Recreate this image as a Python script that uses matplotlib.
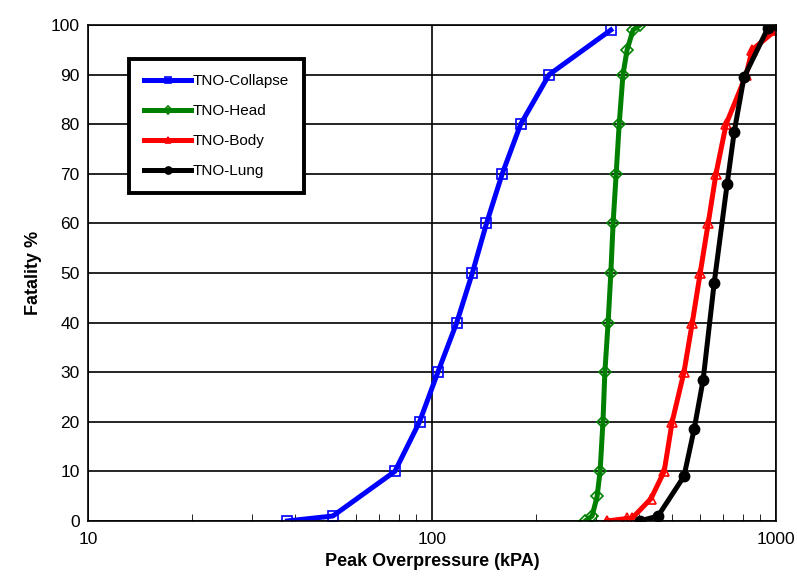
import matplotlib
matplotlib.use('Agg')
from matplotlib import pyplot as plt
from matplotlib.ticker import FixedLocator, NullFormatter

plt.rcParams['font.family'] = ['Liberation Sans', 'DejaVu Sans']

# Peak overpressure (kPa) and fatality (%)
collapse_kpa = [38, 51.5, 78, 92, 104, 118, 131, 144, 160, 181, 219, 331]
collapse_pct = [0, 1, 10, 20, 30, 40, 50, 60, 70, 80, 90, 99]

head_kpa = [279, 292, 302, 308, 314, 318, 325, 331, 336, 343, 350, 359, 369, 384, 402]
head_pct = [0, 1, 5, 10, 20, 30, 40, 50, 60, 70, 80, 90, 95, 99, 100]

body_kpa = [323, 369, 381, 433, 473, 499, 540, 571, 602, 635, 669, 716, 819, 852, 1000]
body_pct = [0, 0.5, 0.5, 4.5, 10, 20, 30, 40, 50, 60, 70, 80, 90, 95, 99]

lung_kpa = [402, 454, 540, 578, 614, 661, 721, 756, 807, 949, 1000]
lung_pct = [0, 1, 9, 18.5, 28.5, 48, 68, 78.5, 89.5, 99.5, 100]

fig = plt.figure(figsize=(7.97, 5.86), dpi=100)
ax = fig.add_axes([0.1104, 0.111, 0.8633, 0.8463])

ax.plot(collapse_kpa, collapse_pct, color='#0000ff', lw=3.6, marker='s', ms=7,
        mfc='none', mec='#0000ff', mew=1.2, label='TNO-Collapse')
ax.plot(head_kpa, head_pct, color='#008000', lw=3.6, marker='D', ms=6,
        mfc='none', mec='#008000', mew=1.2, label='TNO-Head')
ax.plot(body_kpa, body_pct, color='#ff0000', lw=3.6, marker='^', ms=7,
        mfc='none', mec='#ff0000', mew=1.2, label='TNO-Body')
ax.plot(lung_kpa, lung_pct, color='black', lw=3.6, marker='o', ms=7.5,
        mfc='black', mec='black', label='TNO-Lung')

ax.set_xscale('log')
ax.set_xlim(10, 1000)
ax.set_ylim(0, 100)
ax.set_yticks(range(0, 101, 10))
ax.xaxis.set_major_locator(FixedLocator([10, 100, 1000]))
ax.set_xticklabels(['10', '100', '1000'])
ax.xaxis.set_minor_locator(FixedLocator([m * d for d in (10, 100) for m in range(2, 10)]))
ax.xaxis.set_minor_formatter(NullFormatter())

ax.grid(True, which='major', color='black', lw=1.2)
ax.set_axisbelow(True)
ax.tick_params(axis='both', which='both', direction='in', labelsize=12.5, length=5)
ax.tick_params(axis='x', which='major', length=0, pad=8)
ax.tick_params(axis='y', length=0, pad=6)
for s in ax.spines.values():
    s.set_color('black')
    s.set_linewidth(1.2)

ax.set_xlabel('Peak Overpressure (kPA)', fontsize=13, fontweight='bold', labelpad=4)
ax.set_ylabel('Fatality %', fontsize=13, fontweight='bold', labelpad=6)

leg = ax.legend(loc='upper left', bbox_to_anchor=(0.059, 0.932), fontsize=11,
                frameon=True, fancybox=False, handlelength=3.1, handletextpad=0.1,
                borderpad=1.0, labelspacing=1.05, borderaxespad=0, markerscale=0.7)
leg.get_frame().set_edgecolor('black')
leg.get_frame().set_linewidth(2.8)
leg.get_frame().set_alpha(1)

fig.savefig('out.png', dpi=100)
